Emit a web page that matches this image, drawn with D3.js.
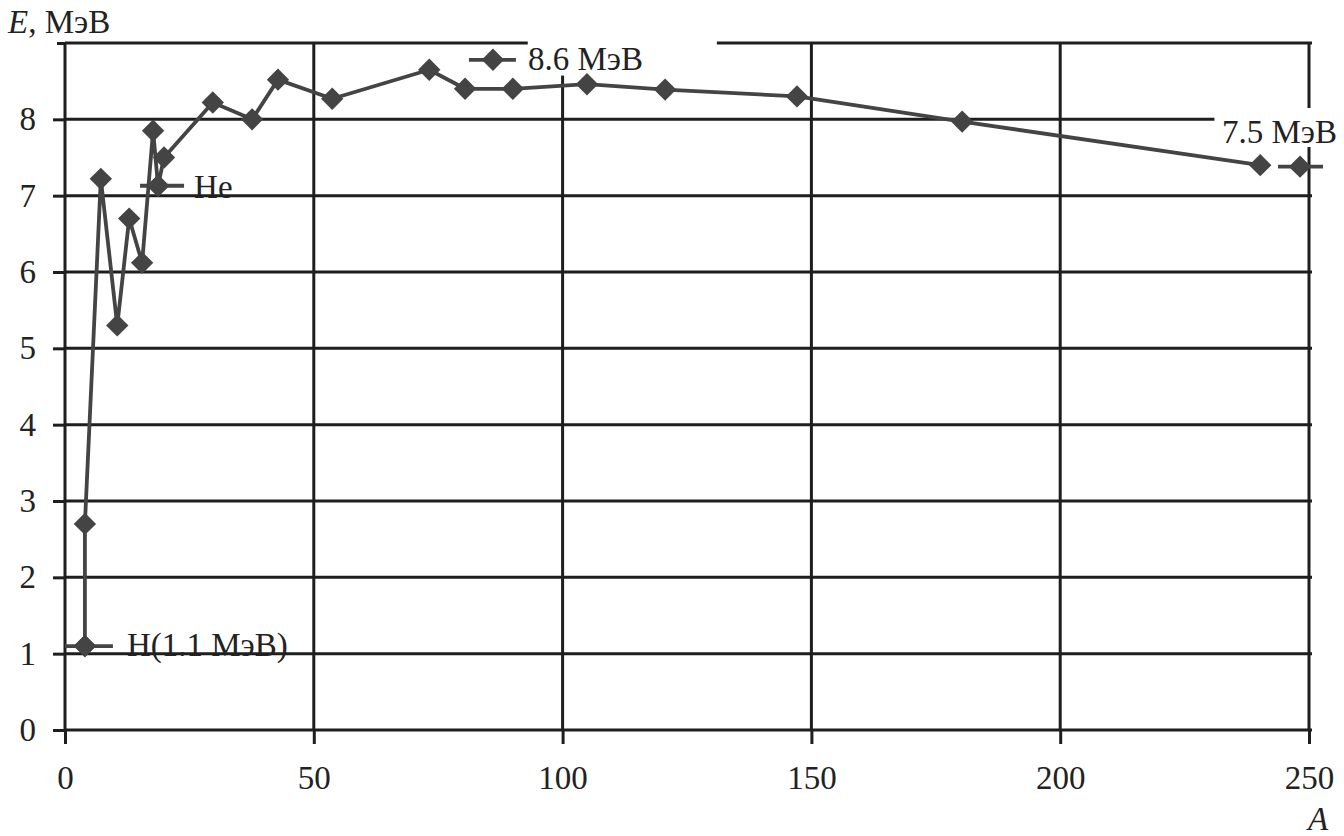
<!DOCTYPE html>
<html>
<head>
<meta charset="utf-8">
<script src="https://cdn.jsdelivr.net/npm/d3@7"></script>
<style>
  body { margin: 0; background: #fff; }
  svg { display: block; }
  text { font-family: "Liberation Serif", "Times New Roman", "DejaVu Serif", serif; fill: #222; }
</style>
</head>
<body>
<svg id="chart" width="1344" height="836"></svg>
<script>
// binding energy per nucleon
var massNumber    = [4, 4, 7.2, 10.5, 12.9, 15.5, 17.7, 18.7, 19.9, 29.7, 37.6, 42.8, 53.7, 73.2, 80.4, 90, 104.9, 120.6, 147.1, 180.3, 240.2];
var bindingEnergy = [1.1, 2.7, 7.22, 5.3, 6.7, 6.12, 7.85, 7.13, 7.5, 8.22, 8.0, 8.52, 8.27, 8.65, 8.4, 8.4, 8.46, 8.39, 8.3, 7.97, 7.4];

// labelled markers (legend-like stubs)
var calloutText = ["H(1.1 МэВ)", "He", "8.6 МэВ", "7.5 МэВ"];
var calloutA    = [4, 18.7, 86, 248.2];
var calloutE    = [1.1, 7.13, 8.78, 7.38];

var xTicks = [0, 50, 100, 150, 200, 250];
var yTicks = [0, 1, 2, 3, 4, 5, 6, 7, 8];
var yGrid  = [0, 1, 2, 3, 4, 5, 6, 7, 8, 9];

var serif = '"Liberation Serif", "Times New Roman", "DejaVu Serif", serif';

var svg = d3.select('#chart');

var x = d3.scaleLinear().domain([0, 250]).range([65, 1309]);
var y = d3.scaleLinear().domain([0, 9]).range([730, 43]);

var gridColor = '#1e1e1e',
    lineColor = '#444';

// grid
var grid = svg.append('g').attr('class', 'grid');
grid.selectAll('line.h')
  .data(yGrid)
  .enter().append('line')
  .attr('class', 'h')
  .attr('x1', x(0)).attr('x2', x(250) + 3)
  .attr('y1', d => y(d)).attr('y2', d => y(d))
  .attr('stroke', gridColor).attr('stroke-width', 3);
grid.selectAll('line.v')
  .data(xTicks)
  .enter().append('line')
  .attr('class', 'v')
  .attr('x1', d => x(d)).attr('x2', d => x(d))
  .attr('y1', y(9)).attr('y2', y(0))
  .attr('stroke', gridColor).attr('stroke-width', 3);

// axes: outward ticks plus labels
svg.append('g')
  .attr('transform', `translate(${x(0)},0)`)
  .call(d3.axisLeft(y).tickValues(yTicks).tickSize(12).tickPadding(17).tickFormat(d3.format('d')));
svg.append('g')
  .attr('transform', `translate(${x(0)},0)`)
  .call(d3.axisLeft(y).tickValues([9]).tickSize(8).tickFormat(''));
svg.append('g')
  .attr('transform', `translate(0,${y(0)})`)
  .call(d3.axisBottom(x).tickValues(xTicks).tickSize(14).tickPadding(22).tickFormat(d3.format('d')));

svg.selectAll('.domain').remove();
svg.selectAll('.tick line').attr('stroke', gridColor).attr('stroke-width', 3);
svg.selectAll('.tick text')
  .attr('font-family', null)
  .style('font-family', serif)
  .style('font-size', '33px')
  .attr('fill', '#222');

// white patches where the labels break the grid
svg.append('rect')
  .attr('x', x(93)).attr('y', 28)
  .attr('width', x(131) - x(93)).attr('height', y(8.6) - 28 + 2)
  .attr('fill', '#fff');
svg.append('rect')
  .attr('x', x(231)).attr('y', 108)
  .attr('width', 1344 - x(231)).attr('height', 39)
  .attr('fill', '#fff');

// data line
var pts = massNumber.map((a, i) => [a, bindingEnergy[i]]);
var line = d3.line().x(d => x(d[0])).y(d => y(d[1]));
svg.append('path')
  .datum(pts)
  .attr('d', line)
  .attr('fill', 'none')
  .attr('stroke', lineColor)
  .attr('stroke-width', 3.8)
  .attr('stroke-linejoin', 'round');

var diamond = d3.symbol().type(d3.symbolSquare).size(250);

svg.selectAll('path.pt')
  .data(pts)
  .enter().append('path')
  .attr('class', 'pt')
  .attr('d', diamond)
  .attr('transform', d => `translate(${x(d[0])},${y(d[1])}) rotate(45)`)
  .attr('fill', lineColor);

// callouts
var stubLeft  = [20, 18, 24, 22],
    stubRight = [28, 26, 23, 23];
calloutA.forEach((a, i) => {
  let cx = x(a), cy = y(calloutE[i]);
  svg.append('line')
    .attr('x1', cx - stubLeft[i]).attr('x2', cx + stubRight[i])
    .attr('y1', cy).attr('y2', cy)
    .attr('stroke', lineColor).attr('stroke-width', 3.8);
  svg.append('path')
    .attr('d', diamond)
    .attr('transform', `translate(${cx},${cy}) rotate(45)`)
    .attr('fill', lineColor);
});

var labelDx = [42, 36, 35, 37],
    labelDy = [10, 12, 10, -24],
    labelAnchor = ['start', 'start', 'start', 'end'];
calloutText.forEach((t, i) => {
  svg.append('text')
    .attr('x', x(calloutA[i]) + labelDx[i])
    .attr('y', y(calloutE[i]) + labelDy[i])
    .attr('text-anchor', labelAnchor[i])
    .style('font-size', '33px')
    .text(t);
});

// axis titles
var yTitle = svg.append('text').attr('x', 8).attr('y', 33).style('font-size', '33px');
yTitle.append('tspan').style('font-style', 'italic').text('E');
yTitle.append('tspan').text(', МэВ');

svg.append('text')
  .attr('x', 1318).attr('y', 830)
  .attr('text-anchor', 'middle')
  .style('font-size', '33px')
  .style('font-style', 'italic')
  .text('A');
</script>
</body>
</html>
